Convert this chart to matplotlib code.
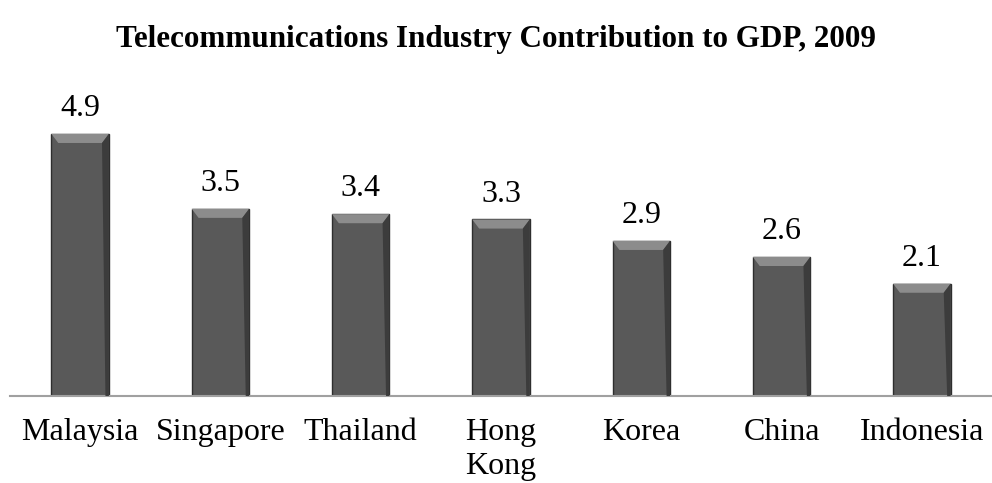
import matplotlib.pyplot as plt
from matplotlib.patches import Polygon

# Datos
paises = ['Malaysia', 'Singapore', 'Thailand', 'Hong\nKong', 'Korea', 'China', 'Indonesia']
valores = [4.9, 3.5, 3.4, 3.3, 2.9, 2.6, 2.1]

plt.rcParams['font.family'] = ['Liberation Serif', 'DejaVu Serif']

fig = plt.figure(figsize=(9.92, 4.83), dpi=100)
ax = fig.add_axes([10 / 992, 87 / 483, 982 / 992, 337 / 483])

x = list(range(len(paises)))
ancho = 0.41
barras = ax.bar(x, valores, width=ancho, color='#595959', edgecolor='#2e2e2e', linewidth=1.0, zorder=2)

# bisel superior claro y borde derecho oscuro
bisel = 0.17
for b in barras:
    x0, w, h = b.get_x(), b.get_width(), b.get_height()
    d = w * 0.12
    ax.add_patch(Polygon([(x0, h), (x0 + w, h), (x0 + w - d, h - bisel), (x0 + d, h - bisel)],
                         closed=True, facecolor='#8c8c8c', edgecolor='none', zorder=3))
    ax.add_patch(Polygon([(x0 + w - d, h - bisel), (x0 + w, h), (x0 + w, 0), (x0 + w - d * 0.5, 0)],
                         closed=True, facecolor='#3c3c3c', edgecolor='none', zorder=3))

for xi, v in zip(x, valores):
    ax.text(xi, v + 0.33, f'{v}', ha='center', va='baseline', fontsize=23)

ax.set_xlim(-0.5, len(paises) - 0.5)
ax.set_ylim(0, 6.3)
ax.set_xticks(x)
ax.set_xticklabels(paises, fontsize=23, linespacing=1.2)
ax.tick_params(axis='x', length=0, pad=16)
ax.set_yticks([])
for s in ['top', 'right', 'left']:
    ax.spines[s].set_visible(False)
ax.spines['bottom'].set_color('#a0a0a0')
ax.spines['bottom'].set_linewidth(1.5)

fig.text(0.5, 1 - 39 / 483, 'Telecommunications Industry Contribution to GDP, 2009',
         ha='center', va='center', fontsize=22.4, fontweight='bold')

fig.savefig('out.png', dpi=100)
